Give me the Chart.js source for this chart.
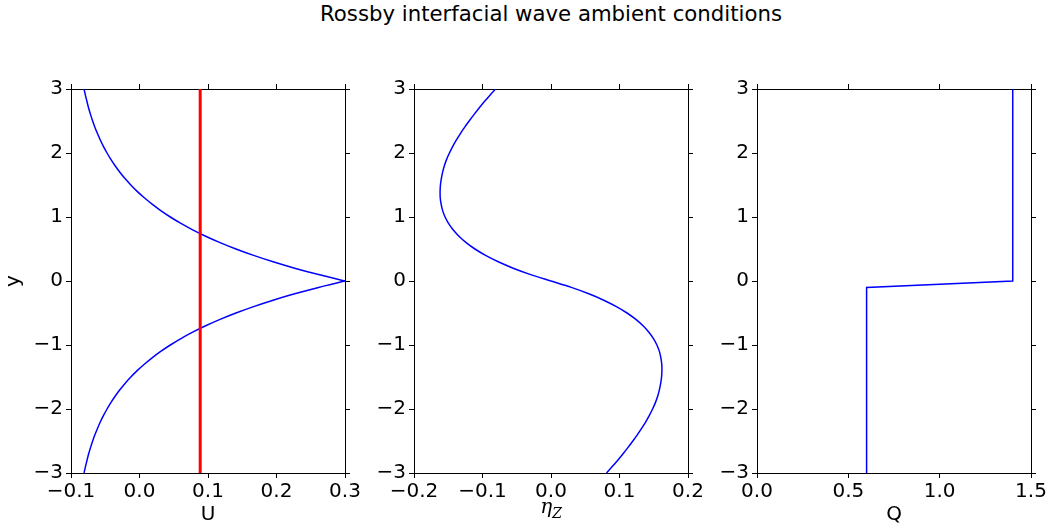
<!DOCTYPE html>
<html>
<head>
<meta charset="utf-8">
<script src="https://cdn.jsdelivr.net/npm/chart.js@4.4.1/dist/chart.umd.min.js"></script>
<style>
  html, body { margin: 0; padding: 0; background: #fff; }
  #wrap { position: relative; width: 1052px; height: 529px; overflow: hidden; }
  canvas { position: absolute; left: 0; top: 0; }
  #title {
    position: absolute; left: 551px; top: 1px; transform: translateX(-50%);
    white-space: nowrap; font-family: 'DejaVu Sans'; font-size: 21.25px; line-height: 25px; color: #000;
  }
  #etaLabel {
    position: absolute; left: 551px; top: 494px; transform: translateX(-50%);
    font-family: 'DejaVu Serif'; font-style: italic; font-size: 20px; line-height: 24px;
    white-space: nowrap; color: #000;
  }
  #etaLabel span { font-size: 14px; vertical-align: -5px; }
</style>
</head>
<body>
<div id="wrap">
  <div id="title">Rossby interfacial wave ambient conditions</div>
  <canvas id="uChart" width="1052" height="529"></canvas>
  <canvas id="etaChart" width="1052" height="529"></canvas>
  <canvas id="qChart" width="1052" height="529"></canvas>
  <div id="etaLabel">η<span>Z</span></div>
</div>
<script>
// y levels of the profiles, lower half (y <= 0) and upper half (y >= 0)
const Y_LOWER = [
  -3.0, -2.9, -2.8, -2.7, -2.6, -2.5, -2.4, -2.3, -2.2, -2.1,
  -2.0, -1.9, -1.8, -1.7, -1.6, -1.5, -1.4, -1.3, -1.2, -1.1,
  -1.0, -0.9, -0.8, -0.7, -0.6, -0.5, -0.4, -0.3, -0.2, -0.1, 0.0
];
const Y_UPPER = [
  0.0, 0.1, 0.2, 0.3, 0.4, 0.5, 0.6, 0.7, 0.8, 0.9,
  1.0, 1.1, 1.2, 1.3, 1.4, 1.5, 1.6, 1.7, 1.8, 1.9,
  2.0, 2.1, 2.2, 2.3, 2.4, 2.5, 2.6, 2.7, 2.8, 2.9, 3.0
];

// ambient flow U(y)
const U_LOWER = [
  -0.0810, -0.0789, -0.0766, -0.0742, -0.0714, -0.0684, -0.0650, -0.0612, -0.0571, -0.0525,
  -0.0474, -0.0418, -0.0356, -0.0287, -0.0211, -0.0127, -0.0034, 0.0070, 0.0184, 0.0310,
  0.0450, 0.0605, 0.0776, 0.0966, 0.1176, 0.1408, 0.1666, 0.1950, 0.2265, 0.2614, 0.3000
];
const U_UPPER = [
  0.3000, 0.2614, 0.2265, 0.1950, 0.1666, 0.1408, 0.1176, 0.0966, 0.0776, 0.0605,
  0.0450, 0.0310, 0.0184, 0.0070, -0.0034, -0.0127, -0.0211, -0.0287, -0.0356, -0.0418,
  -0.0474, -0.0525, -0.0571, -0.0612, -0.0650, -0.0684, -0.0714, -0.0742, -0.0766, -0.0789, -0.0810
];

// critical speed (red line)
const U_CRIT = 0.0886;
const CRIT_Y = [-3, 3];

// interface slope eta_Z(y)
const ETA_LOWER = [
  0.0810, 0.0894, 0.0975, 0.1052, 0.1125, 0.1195, 0.1262, 0.1325, 0.1383, 0.1436,
  0.1483, 0.1524, 0.1557, 0.1582, 0.1601, 0.1614, 0.1619, 0.1617, 0.1604, 0.1582,
  0.1546, 0.1496, 0.1429, 0.1344, 0.1239, 0.1110, 0.0955, 0.0770, 0.0552, 0.0297, 0.0000
];
const ETA_UPPER = [
  0.0000, -0.0297, -0.0552, -0.0770, -0.0955, -0.1110, -0.1239, -0.1344, -0.1429, -0.1496,
  -0.1546, -0.1582, -0.1604, -0.1617, -0.1619, -0.1614, -0.1601, -0.1582, -0.1557, -0.1524,
  -0.1483, -0.1436, -0.1383, -0.1325, -0.1262, -0.1195, -0.1125, -0.1052, -0.0975, -0.0894, -0.0810
];

// potential vorticity Q(y)
const Q_Y = [-3, -0.1, 0, 3];
const Q_VALUES = [0.6, 0.6, 1.4, 1.4];

// tick values
const Y_TICKS = [-3, -2, -1, 0, 1, 2, 3];
const U_TICKS = [-0.1, 0.0, 0.1, 0.2, 0.3];
const ETA_TICKS = [-0.2, -0.1, 0.0, 0.1, 0.2];
const Q_TICKS = [0.0, 0.5, 1.0, 1.5];

const FONT = { family: 'DejaVu Sans', size: 20 };
const MINUS = '\u2212';

function fmt1(v) { return v.toFixed(1).replace('-', MINUS); }
function fmt0(v) { return String(v).replace('-', MINUS); }

function points(ys, xs) {
  return ys.map((y, i) => ({ x: xs[i], y: y }));
}

function tickMarks() {
  return { drawOnChartArea: false, drawTicks: true, tickLength: 5, color: '#000', lineWidth: 1 };
}

function spine() {
  return { display: true, color: '#000', width: 1 };
}

function fixedTicks(values) {
  return scale => { scale.ticks = values.map(v => ({ value: v })); };
}

function makePanel(id, p) {
  return new Chart(document.getElementById(id), {
    type: 'scatter',
    data: { datasets: p.datasets },
    options: {
      responsive: false,
      animation: false,
      events: [],
      layout: {
        padding: { left: p.left - p.yAxisWidth, right: 1052 - p.right - 6, top: 83, bottom: 0 }
      },
      plugins: { legend: { display: false }, tooltip: { enabled: false } },
      scales: {
        x: {
          type: 'linear', position: 'bottom', min: p.xMin, max: p.xMax,
          grid: tickMarks(), border: spine(),
          afterBuildTicks: fixedTicks(p.xTicks),
          ticks: { callback: fmt1, font: FONT, color: '#000', padding: 2, maxRotation: 0, autoSkip: false },
          title: { display: !!p.xTitle, text: p.xTitle || '', font: FONT, color: '#000', padding: { top: 0, bottom: 2 } },
          afterFit: s => { s.height = 56; }
        },
        x2: {
          type: 'linear', position: 'top', min: p.xMin, max: p.xMax,
          grid: tickMarks(), border: spine(),
          afterBuildTicks: fixedTicks(p.xTicks),
          ticks: { display: false },
          afterFit: s => { s.height = 6; }
        },
        y: {
          type: 'linear', position: 'left', min: -3, max: 3,
          grid: tickMarks(), border: spine(),
          afterBuildTicks: fixedTicks(Y_TICKS),
          ticks: { callback: fmt0, font: FONT, color: '#000', padding: 3, autoSkip: false },
          title: { display: !!p.yTitle, text: p.yTitle || '', font: FONT, color: '#000', padding: { top: 2, bottom: 0 } },
          afterFit: s => { s.width = p.yAxisWidth; }
        },
        y2: {
          type: 'linear', position: 'right', min: -3, max: 3,
          grid: tickMarks(), border: spine(),
          afterBuildTicks: fixedTicks(Y_TICKS),
          ticks: { display: false },
          afterFit: s => { s.width = 6; }
        }
      }
    }
  });
}

const blueLine = { borderColor: '#0000ff', borderWidth: 1.5, showLine: true, pointRadius: 0, tension: 0.3, fill: false };

makePanel('uChart', {
  left: 71, right: 345, yAxisWidth: 71,
  xMin: -0.1, xMax: 0.3, xTicks: U_TICKS, xTitle: 'U', yTitle: 'y',
  datasets: [
    { ...blueLine, data: points(Y_LOWER, U_LOWER), order: 1 },
    { ...blueLine, data: points(Y_UPPER, U_UPPER), order: 1 },
    { data: points(CRIT_Y, [U_CRIT, U_CRIT]), borderColor: '#ff0000', borderWidth: 3,
      showLine: true, pointRadius: 0, fill: false, order: 0 }
  ]
});

makePanel('etaChart', {
  left: 414, right: 688, yAxisWidth: 45,
  xMin: -0.2, xMax: 0.2, xTicks: ETA_TICKS, xTitle: '', yTitle: '',
  datasets: [
    { ...blueLine, data: points(Y_LOWER, ETA_LOWER) },
    { ...blueLine, data: points(Y_UPPER, ETA_UPPER) }
  ]
});

makePanel('qChart', {
  left: 757, right: 1031, yAxisWidth: 45,
  xMin: 0, xMax: 1.5, xTicks: Q_TICKS, xTitle: 'Q', yTitle: '',
  datasets: [{ ...blueLine, tension: 0, data: points(Q_Y, Q_VALUES) }]
});
</script>
</body>
</html>
